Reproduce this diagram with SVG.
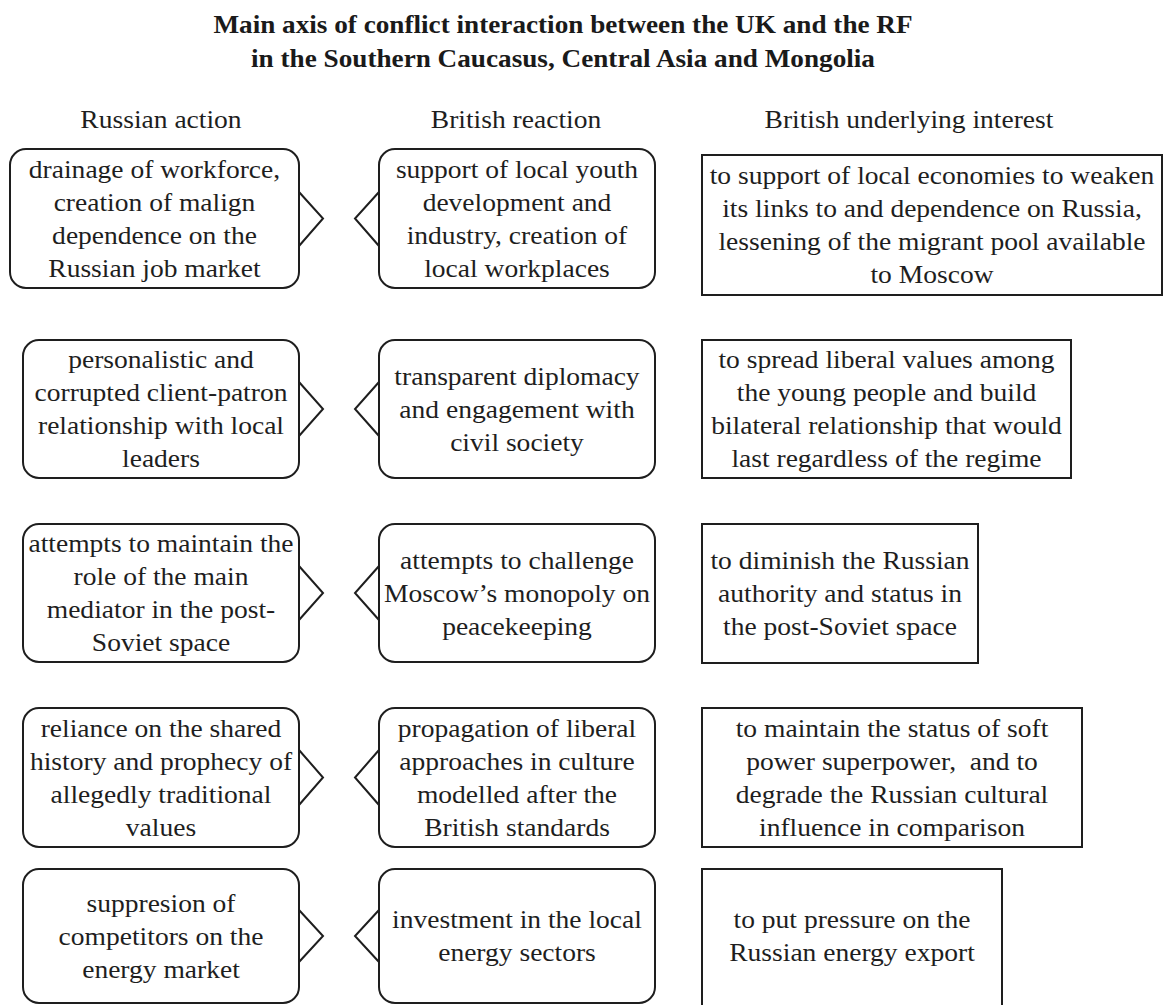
<svg xmlns="http://www.w3.org/2000/svg" width="1164" height="1005" viewBox="0 0 1164 1005">
<style>
  .bg{fill:#ffffff}
  .box{fill:#ffffff;stroke:#1e1e1e;stroke-width:2}
  .chev{fill:none;stroke:#1e1e1e;stroke-width:2;stroke-linejoin:miter}
  .t{font-family:"Liberation Serif","Times New Roman",serif;font-size:25.5px;fill:#1e1e1e;text-anchor:middle}
  .title{font-family:"Liberation Serif","Times New Roman",serif;font-size:24.5px;font-weight:bold;fill:#1a1a1a;text-anchor:middle}
</style>
<rect class="bg" x="0" y="0" width="1164" height="1005"/>

<g id="title">
  <text class="title" transform="translate(563 0) scale(1.11 1)"><tspan x="0" y="33">Main axis of conflict interaction between the UK and the RF</tspan><tspan x="0" y="67">in the Southern Caucasus, Central Asia and Mongolia</tspan></text>
</g>

<g id="headers">
  <text class="t" transform="translate(161 0) scale(1.08 1)"><tspan x="0" y="128">Russian action</tspan></text>
  <text class="t" transform="translate(516 0) scale(1.08 1)"><tspan x="0" y="128">British reaction</tspan></text>
  <text class="t" transform="translate(909 0) scale(1.08 1)"><tspan x="0" y="128">British underlying interest</tspan></text>
</g>

<!-- Row 1 -->
<g id="r1-action">
  <rect class="box" x="10" y="149" width="289" height="139" rx="16"/>
  <polyline class="chev" points="299,192 323,218.5 299,246"/>
  <text class="t" transform="translate(154.5 0) scale(1.08 1)"><tspan x="0" y="178">drainage of workforce,</tspan><tspan x="0" y="211">creation of malign</tspan><tspan x="0" y="244">dependence on the</tspan><tspan x="0" y="277">Russian job market</tspan></text>
</g>
<g id="r1-reaction">
  <rect class="box" x="379" y="149" width="276" height="139" rx="16"/>
  <polyline class="chev" points="379,192 355,218.5 379,246"/>
  <text class="t" transform="translate(517 0) scale(1.08 1)"><tspan x="0" y="178">support of local youth</tspan><tspan x="0" y="211">development and</tspan><tspan x="0" y="244">industry, creation of</tspan><tspan x="0" y="277">local workplaces</tspan></text>
</g>
<g id="r1-interest">
  <rect class="box" x="702" y="155" width="460" height="140"/>
  <text class="t" transform="translate(932 0) scale(1.08 1)"><tspan x="0" y="184.5">to support of local economies to weaken</tspan><tspan x="0" y="217.5">its links to and dependence on Russia,</tspan><tspan x="0" y="250.5">lessening of the migrant pool available</tspan><tspan x="0" y="283.5">to Moscow</tspan></text>
</g>

<!-- Row 2 -->
<g id="r2-action">
  <rect class="box" x="23" y="340" width="276" height="138" rx="16"/>
  <polyline class="chev" points="299,382 323,409 299,436"/>
  <text class="t" transform="translate(161 0) scale(1.08 1)"><tspan x="0" y="368.5">personalistic and</tspan><tspan x="0" y="401.5">corrupted client-patron</tspan><tspan x="0" y="434.5">relationship with local</tspan><tspan x="0" y="467.5">leaders</tspan></text>
</g>
<g id="r2-reaction">
  <rect class="box" x="379" y="340" width="276" height="138" rx="16"/>
  <polyline class="chev" points="379,382 355,409 379,436"/>
  <text class="t" transform="translate(517 0) scale(1.08 1)"><tspan x="0" y="385">transparent diplomacy</tspan><tspan x="0" y="418">and engagement with</tspan><tspan x="0" y="451">civil society</tspan></text>
</g>
<g id="r2-interest">
  <rect class="box" x="702" y="340" width="369" height="138"/>
  <text class="t" transform="translate(886.5 0) scale(1.08 1)"><tspan x="0" y="368.5">to spread liberal values among</tspan><tspan x="0" y="401.5">the young people and build</tspan><tspan x="0" y="434.5">bilateral relationship that would</tspan><tspan x="0" y="467.5">last regardless of the regime</tspan></text>
</g>

<!-- Row 3 -->
<g id="r3-action">
  <rect class="box" x="23" y="524" width="276" height="138" rx="16"/>
  <polyline class="chev" points="299,566 323,593 299,620"/>
  <text class="t" transform="translate(161 0) scale(1.08 1)"><tspan x="0" y="552.5">attempts to maintain the</tspan><tspan x="0" y="585.5">role of the main</tspan><tspan x="0" y="618.5">mediator in the post-</tspan><tspan x="0" y="651.5">Soviet space</tspan></text>
</g>
<g id="r3-reaction">
  <rect class="box" x="379" y="524" width="276" height="138" rx="16"/>
  <polyline class="chev" points="379,566 355,593 379,620"/>
  <text class="t" transform="translate(517 0) scale(1.08 1)"><tspan x="0" y="569">attempts to challenge</tspan><tspan x="0" y="602">Moscow’s monopoly on</tspan><tspan x="0" y="635">peacekeeping</tspan></text>
</g>
<g id="r3-interest">
  <rect class="box" x="702" y="524" width="276" height="139"/>
  <text class="t" transform="translate(840 0) scale(1.08 1)"><tspan x="0" y="569.5">to diminish the Russian</tspan><tspan x="0" y="602.5">authority and status in</tspan><tspan x="0" y="635.5">the post-Soviet space</tspan></text>
</g>

<!-- Row 4 -->
<g id="r4-action">
  <rect class="box" x="23" y="708" width="276" height="139" rx="16"/>
  <polyline class="chev" points="299,750 323,777.5 299,805"/>
  <text class="t" transform="translate(161 0) scale(1.08 1)"><tspan x="0" y="737">reliance on the shared</tspan><tspan x="0" y="770">history and prophecy of</tspan><tspan x="0" y="803">allegedly traditional</tspan><tspan x="0" y="836">values</tspan></text>
</g>
<g id="r4-reaction">
  <rect class="box" x="379" y="708" width="276" height="139" rx="16"/>
  <polyline class="chev" points="379,750 355,777.5 379,805"/>
  <text class="t" transform="translate(517 0) scale(1.08 1)"><tspan x="0" y="737">propagation of liberal</tspan><tspan x="0" y="770">approaches in culture</tspan><tspan x="0" y="803">modelled after the</tspan><tspan x="0" y="836">British standards</tspan></text>
</g>
<g id="r4-interest">
  <rect class="box" x="702" y="708" width="380" height="139"/>
  <text class="t" transform="translate(892 0) scale(1.08 1)"><tspan x="0" y="737">to maintain the status of soft</tspan><tspan x="0" y="770" xml:space="preserve">power superpower,  and to</tspan><tspan x="0" y="803">degrade the Russian cultural</tspan><tspan x="0" y="836">influence in comparison</tspan></text>
</g>

<!-- Row 5 -->
<g id="r5-action">
  <rect class="box" x="23" y="869" width="276" height="134" rx="16"/>
  <polyline class="chev" points="299,910 323,936 299,962"/>
  <text class="t" transform="translate(161 0) scale(1.08 1)"><tspan x="0" y="912">suppresion of</tspan><tspan x="0" y="945">competitors on the</tspan><tspan x="0" y="978">energy market</tspan></text>
</g>
<g id="r5-reaction">
  <rect class="box" x="379" y="869" width="276" height="134" rx="16"/>
  <polyline class="chev" points="379,910 355,936 379,962"/>
  <text class="t" transform="translate(517 0) scale(1.08 1)"><tspan x="0" y="928.5">investment in the local</tspan><tspan x="0" y="961.5">energy sectors</tspan></text>
</g>
<g id="r5-interest">
  <rect class="box" x="702" y="869" width="300" height="142"/>
  <text class="t" transform="translate(852 0) scale(1.08 1)"><tspan x="0" y="928.5">to put pressure on the</tspan><tspan x="0" y="961.5">Russian energy export</tspan></text>
</g>

<g id="connectors"></g>
</svg>
